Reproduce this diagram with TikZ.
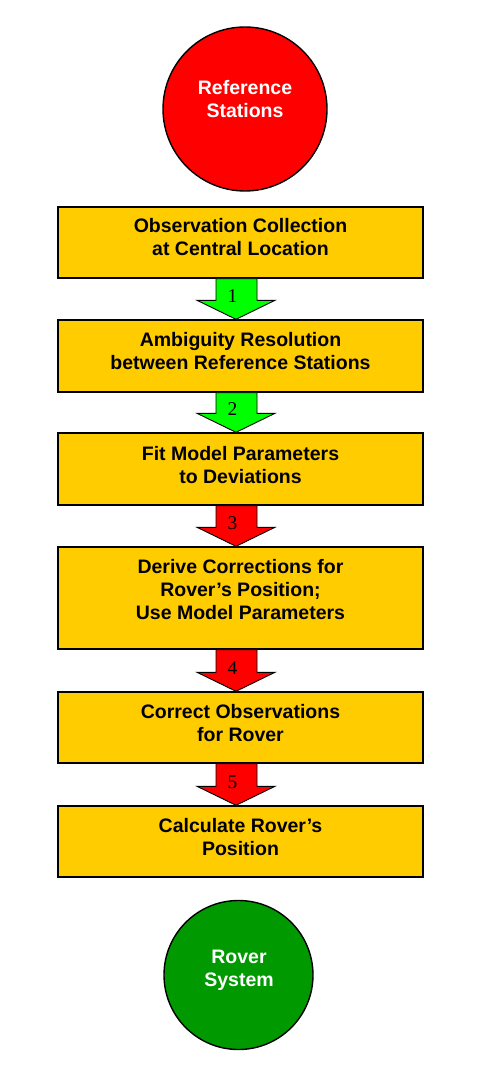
\documentclass[tikz,border=0pt]{standalone}
\usepackage{fontspec}
\setmainfont{Liberation Sans}
\newfontfamily\numfont{Liberation Serif}
\usetikzlibrary{calc}
\definecolor{boxyellow}{RGB}{255,204,0}
\definecolor{stepred}{RGB}{255,0,0}
\definecolor{stepgreen}{RGB}{0,255,0}
\definecolor{rovergreen}{RGB}{0,153,0}
\newcommand{\flowarrow}[5]{%
  \draw[flow, fill=#3] let \p1=(#1.south), \p2=(#2.north) in
    (\x1-24.5pt,\y1) -- (\x1+16.5pt,\y1) -- (\x1+16.5pt,\y2+19pt) --
    (\x1+34.5pt,\y2+19pt) -- (\x1-4.5pt,\y2) -- (\x1-43.5pt,\y2+19pt) --
    (\x1-24.5pt,\y2+19pt) -- cycle
    node[numtext] (#5) at (\x1-8pt,\y2+17pt) {#4};}
\begin{document}
\begin{tikzpicture}[x=1pt,y=-1pt,
  stepbox/.style={draw=black, line width=1.4pt, fill=boxyellow,
    minimum width=365pt, inner sep=0pt},
  boxtext/.style={inner sep=0pt, align=center, anchor=north,
    font=\fontsize{19.5}{23}\selectfont\bfseries},
  disc/.style={circle, draw=black, line width=1.4pt, inner sep=0pt},
  disctext/.style={boxtext, text=white},
  numtext/.style={inner sep=0pt, anchor=base, text=black,
    font=\numfont\fontsize{19.5}{23}\selectfont},
  flow/.style={draw=black, line width=0.9pt}]
\useasboundingbox (0,0) rectangle (477,1083);
\fill[white] (0,0) rectangle (477,1083);

\node[disc, fill=stepred, minimum size=164pt] (ref) at (245,109) {};
\node[disctext] (reft) at (245,77.9) {\strut Reference\\Stations};

\node[stepbox, minimum height=71pt] (b1) at (240.5,242.5) {};
\node[boxtext] (t1) at (240.5,215.9) {\strut Observation Collection\\at Central Location};

\node[stepbox, minimum height=72pt] (b2) at (240.5,356) {};
\node[boxtext] (t2) at (240.5,329.9) {\strut Ambiguity Resolution\\between Reference Stations};

\node[stepbox, minimum height=72pt] (b3) at (240.5,469) {};
\node[boxtext] (t3) at (240.5,443.9) {\strut Fit Model Parameters\\to Deviations};

\node[stepbox, minimum height=102pt] (b4) at (240.5,598) {};
\node[boxtext] (t4) at (240.5,556.9) {\strut Derive Corrections for\\Rover’s Position;\\Use Model Parameters};

\node[stepbox, minimum height=71pt] (b5) at (240.5,727.5) {};
\node[boxtext] (t5) at (240.5,701.9) {\strut Correct Observations\\for Rover};

\node[stepbox, minimum height=71pt] (b6) at (240.5,841.5) {};
\node[boxtext] (t6) at (240.5,815.9) {\strut Calculate Rover’s\\Position};

\node[disc, fill=rovergreen, minimum size=149pt] (rov) at (238.5,975) {};
\node[disctext] (rovt) at (239,946.9) {\strut Rover\\System};

\flowarrow{b1}{b2}{stepgreen}{1}{n1}
\flowarrow{b2}{b3}{stepgreen}{2}{n2}
\flowarrow{b3}{b4}{stepred}{3}{n3}
\flowarrow{b4}{b5}{stepred}{4}{n4}
\flowarrow{b5}{b6}{stepred}{5}{n5}
\end{tikzpicture}
\end{document}
